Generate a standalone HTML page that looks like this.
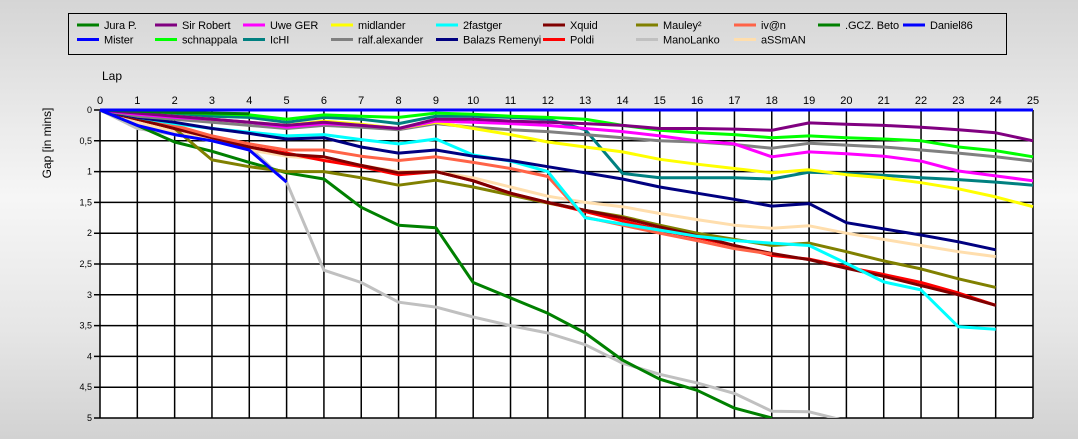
<!DOCTYPE html>
<html><head><meta charset="utf-8"><style>
html,body{margin:0;padding:0}
body{width:1078px;height:439px;overflow:hidden;background:linear-gradient(180deg,#d5d5d5 0%,#ececec 30%,#f6f6f6 45%,#e6e6e6 75%,#d2d2d2 100%);font-family:"Liberation Sans",sans-serif}
svg{position:absolute;left:0;top:0}
</style></head><body>
<svg id="chart" width="1078" height="439" xmlns="http://www.w3.org/2000/svg" font-family="Liberation Sans, sans-serif"></svg>
<script>
const lapTicks=[0,1,2,3,4,5,6,7,8,9,10,11,12,13,14,15,16,17,18,19,20,21,22,23,24,25];
const gapTicks=[0,0.5,1,1.5,2,2.5,3,3.5,4,4.5,5];
const gapTickLabels=["0","0,5","1","1,5","2","2,5","3","3,5","4","4,5","5"];
const seriesNames=["Jura P.","Sir Robert","Uwe GER","midlander","2fastger","Xquid","Mauley²","iv@n",".GCZ. Beto","Daniel86","Mister","schnappala","IcHI","ralf.alexander","Balazs Remenyi","Poldi","ManoLanko","aSSmAN"];
const seriesColors=["#008000","#800080","#ff00ff","#ffff00","#00ffff","#800000","#808000","#ff6347","#008000","#0000ff","#0000ff","#00ff00","#008080","#808080","#000080","#ff0000","#c0c0c0","#ffdead"];
const juraP=[0,0.25,0.52,0.67,0.85,1.02,1.12,1.58,1.87,1.91,2.8,3.05,3.3,3.62,4.06,4.37,4.55,4.84,5.0];
const sirRobert=[0,0.05,0.1,0.15,0.2,0.25,0.2,0.25,0.3,0.15,0.15,0.18,0.2,0.22,0.25,0.3,0.3,0.31,0.33,0.21,0.23,0.25,0.28,0.32,0.37,0.5];
const uweGer=[0,0.07,0.12,0.15,0.2,0.28,0.22,0.25,0.3,0.18,0.2,0.22,0.25,0.3,0.35,0.42,0.5,0.55,0.76,0.68,0.71,0.75,0.83,0.99,1.07,1.15];
const midlander=[0,0.05,0.1,0.15,0.2,0.25,0.18,0.23,0.3,0.2,0.3,0.4,0.52,0.6,0.68,0.8,0.88,0.95,1.02,0.97,1.05,1.1,1.18,1.28,1.41,1.57];
const fastger=[0,0.12,0.22,0.3,0.36,0.42,0.4,0.48,0.55,0.47,0.73,0.83,1.0,1.75,1.85,1.95,2.05,2.12,2.16,2.2,2.49,2.79,2.92,3.52,3.56];
const xquid=[0,0.15,0.3,0.45,0.6,0.72,0.76,0.9,1.02,1.0,1.15,1.35,1.5,1.63,1.75,1.9,2.04,2.2,2.33,2.43,2.57,2.7,2.85,3.0,3.17];
const mauley=[0,0.15,0.3,0.81,0.92,1.0,1.0,1.1,1.22,1.14,1.25,1.38,1.51,1.63,1.73,1.87,2.0,2.1,2.2,2.16,2.3,2.45,2.58,2.74,2.88];
const ivan=[0,0.1,0.25,0.42,0.55,0.65,0.65,0.75,0.82,0.76,0.85,0.95,1.08,1.74,1.87,2.0,2.12,2.25,2.34];
const gczBeto=[0,0.02,0.04,0.05,0.06];
const daniel86=[0,0,0,0,0,0,0,0,0,0,0,0,0,0,0,0,0,0,0,0,0,0,0,0,0,0];
const mister=[0,0.25,0.4,0.5,0.65,1.17];
const schnappala=[0,0.02,0.04,0.06,0.08,0.15,0.08,0.1,0.12,0.05,0.07,0.1,0.12,0.15,0.25,0.33,0.37,0.4,0.45,0.42,0.45,0.47,0.5,0.6,0.66,0.76];
const ichi=[0,0.05,0.08,0.1,0.12,0.2,0.12,0.15,0.22,0.1,0.1,0.12,0.15,0.32,1.03,1.1,1.1,1.1,1.12,1.01,1.03,1.06,1.1,1.13,1.17,1.22];
const ralf=[0,0.1,0.15,0.2,0.25,0.3,0.25,0.28,0.32,0.22,0.28,0.32,0.35,0.4,0.45,0.5,0.52,0.56,0.62,0.54,0.57,0.6,0.65,0.7,0.76,0.83];
const balazs=[0,0.12,0.2,0.3,0.38,0.47,0.45,0.6,0.7,0.65,0.75,0.82,0.92,1.02,1.12,1.25,1.35,1.45,1.56,1.52,1.83,1.93,2.03,2.14,2.27];
const poldi=[0,0.15,0.3,0.45,0.6,0.7,0.82,0.92,1.05,1.0,1.15,1.35,1.5,1.65,1.8,1.95,2.07,2.2,2.36,2.42,2.55,2.67,2.8,2.97,3.17];
const manoLanko=[0,0.3,0.4,0.5,0.6,1.17,2.6,2.8,3.12,3.2,3.36,3.5,3.62,3.81,4.11,4.29,4.43,4.6,4.89,4.9,5.05];
const assman=[0,0.2,0.35,0.5,0.65,0.75,0.8,0.9,1.0,1.0,1.1,1.25,1.4,1.5,1.57,1.68,1.78,1.87,1.92,1.88,2.0,2.1,2.2,2.3,2.38];
const seriesData=[juraP,sirRobert,uweGer,midlander,fastger,xquid,mauley,ivan,gczBeto,daniel86,mister,schnappala,ichi,ralf,balazs,poldi,manoLanko,assman];

const NS="http://www.w3.org/2000/svg";
const svg=document.getElementById('chart');
const X0=100,X1=1033,Y0=110,Y1=418;
const xScale=v=>X0+(v-0)/(25-0)*(X1-X0);
const yScale=v=>Y0+(v-0)/(5-0)*(Y1-Y0);
function mk(tag,attrs,parent){const e=document.createElementNS(NS,tag);for(const k in attrs)e.setAttribute(k,attrs[k]);(parent||svg).appendChild(e);return e;}

const bg=mk('rect',{x:X0,y:Y0,width:X1-X0,height:Y1-Y0,fill:'#fff'});


const grid=mk('g',{stroke:'#000','stroke-width':1.5});


lapTicks.forEach(t=>{mk('line',{x1:xScale(t),x2:xScale(t),y1:Y0,y2:Y1},grid);});
gapTicks.forEach(t=>{mk('line',{x1:X0-6,x2:X1,y1:yScale(t),y2:yScale(t)},grid);});
const xl=mk('g',{'font-size':11,'text-anchor':'middle',fill:'#000'});


lapTicks.forEach(t=>{const tx=mk('text',{x:xScale(t),y:104},xl);tx.textContent=t;});
const yl=mk('g',{'font-size':9,'text-anchor':'end',fill:'#000'});


gapTicks.forEach((t,i)=>{const tx=mk('text',{x:X0-8,y:yScale(t)+3},yl);tx.textContent=gapTickLabels[i];});
const xt=mk('text',{x:102,y:80,'font-size':12});xt.textContent='Lap';


const yt=mk('text',{x:0,y:0,'font-size':12,'text-anchor':'middle',transform:'translate(51,143) rotate(-90)'});yt.textContent='Gap [in mins]';



const clip=mk('clipPath',{id:'pc'});mk('rect',{x:X0-3,y:Y0-3,width:X1-X0+6,height:Y1-Y0+3},clip);
const sg=mk('g',{'clip-path':'url(#pc)',fill:'none','stroke-width':3,'stroke-linejoin':'round'});


const order=[16,0,17,6,15,5,7,4,14,12,13,3,2,11,1,8,10,9];
order.forEach(i=>{
  const d=seriesData[i].map((v,k)=>(k?'L':'M')+xScale(k).toFixed(1)+','+yScale(v).toFixed(1)).join(' ');
  const p=mk('path',{d:d,stroke:seriesColors[i]},sg);
  
  
});

const lg=mk('g',{});


mk('rect',{x:68.5,y:13.5,width:938,height:41,fill:'none',stroke:'#000','stroke-width':1},lg);
const legendRow1=["Jura P.","Sir Robert","Uwe GER","midlander","2fastger","Xquid","Mauley²","iv@n",".GCZ. Beto","Daniel86"];
const legendRow2=["Mister","schnappala","IcHI","ralf.alexander","Balazs Remenyi","Poldi","ManoLanko","aSSmAN"];
const colX=[77,155,243,331,436,543,636,734,818,903];
[legendRow1,legendRow2].forEach((row,r)=>{
  row.forEach((nm,c)=>{
    const i=seriesNames.indexOf(nm);
    const y=25+r*14.5;
    const e=mk('g',{},lg);
    
    
    mk('line',{x1:colX[c],x2:colX[c]+22,y1:y,y2:y,stroke:seriesColors[i],'stroke-width':3},e);
    const t=mk('text',{x:colX[c]+27,y:y+4,'font-size':11,'letter-spacing':'-0.1',fill:'#000'},e);t.textContent=nm;
  });
});
</script>
</body></html>
